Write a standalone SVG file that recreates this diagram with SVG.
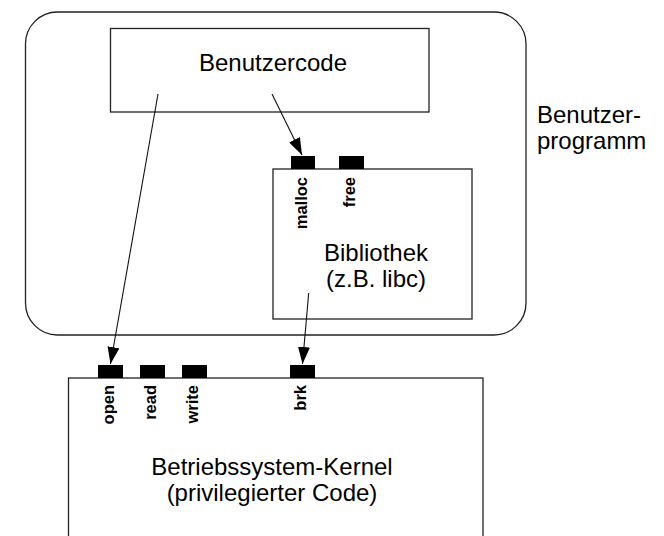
<svg xmlns="http://www.w3.org/2000/svg" width="664" height="536" viewBox="0 0 664 536">
<defs>
<style>
.box{fill:none;stroke:#222;stroke-width:1.3}
.port{fill:#000}
.t{font-family:"Liberation Sans",Arial,Helvetica,sans-serif;font-size:24px;fill:#000}
.pl{font-family:"Liberation Sans",Arial,Helvetica,sans-serif;font-size:16.5px;font-weight:bold;fill:#000;text-anchor:end}
.c{fill:none;stroke:#111;stroke-width:1.1}
</style>
<marker id="ah" viewBox="0 0 17 12" refX="17" refY="6" markerWidth="17" markerHeight="12" markerUnits="userSpaceOnUse" orient="auto">
<path d="M0,0 L17,6 L0,12 z" fill="#000"/>
</marker>
</defs>
<rect width="664" height="536" fill="#fff"/>
<g id="benutzerprogramm">
<rect class="box" x="25.5" y="12" width="500.5" height="323" rx="32" ry="32"/>
<text class="t" x="537" y="123">Benutzer-</text>
<text class="t" x="537" y="149">programm</text>
</g>
<g id="benutzercode">
<rect class="box" x="110.5" y="28.5" width="318.5" height="83.5"/>
<text class="t" x="273" y="71" text-anchor="middle">Benutzercode</text>
</g>
<g id="bibliothek">
<rect class="box" x="273" y="169" width="199" height="150"/>
<text class="t" x="376" y="260.5" text-anchor="middle">Bibliothek</text>
<text class="t" x="376" y="286.5" text-anchor="middle">(z.B. libc)</text>
<rect class="port" x="291" y="156" width="24" height="13"/>
<rect class="port" x="339" y="156" width="25" height="13"/>
<text class="pl" transform="translate(306.5,177) rotate(-90)">malloc</text>
<text class="pl" transform="translate(355,177) rotate(-90)">free</text>
</g>
<g id="kernel">
<rect class="box" x="68.5" y="378" width="414.5" height="200"/>
<text class="t" x="272" y="474.5" text-anchor="middle">Betriebssystem-Kernel</text>
<text class="t" x="272" y="500.5" text-anchor="middle">(privilegierter Code)</text>
<rect class="port" x="98" y="365" width="25" height="13"/>
<rect class="port" x="140" y="365" width="25" height="13"/>
<rect class="port" x="182" y="365" width="25" height="13"/>
<rect class="port" x="290" y="365" width="25" height="13"/>
<text class="pl" transform="translate(113.5,385) rotate(-90)">open</text>
<text class="pl" transform="translate(156,385) rotate(-90)">read</text>
<text class="pl" transform="translate(198,385) rotate(-90)">write</text>
<text class="pl" transform="translate(306,385) rotate(-90)">brk</text>
</g>
<g id="connectors">
<line class="c" x1="158" y1="94" x2="110.5" y2="364" marker-end="url(#ah)"/>
<line class="c" x1="272" y1="94" x2="302" y2="155" marker-end="url(#ah)"/>
<line class="c" x1="308.7" y1="293" x2="302.5" y2="364" marker-end="url(#ah)"/>
</g>
</svg>
